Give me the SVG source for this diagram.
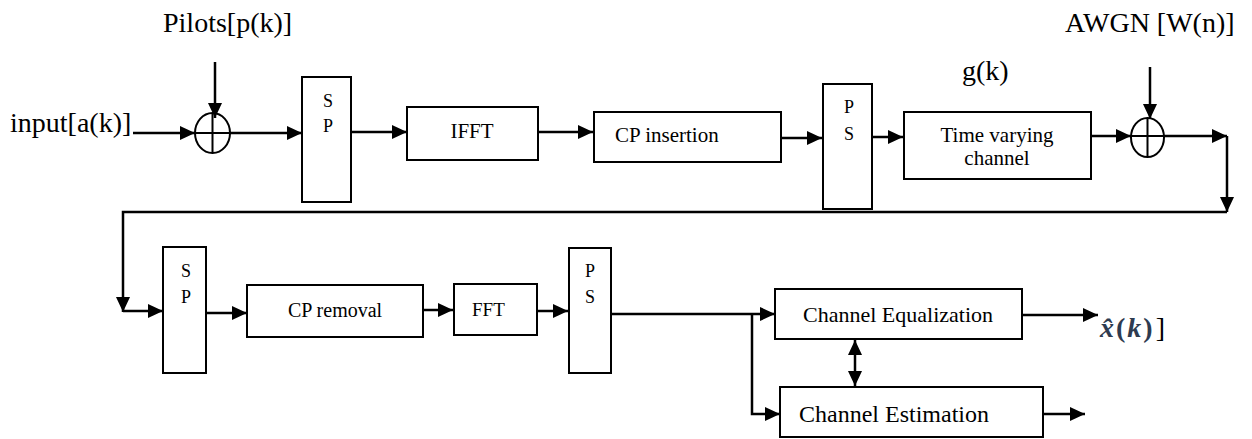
<svg xmlns="http://www.w3.org/2000/svg" width="1252" height="439" viewBox="0 0 1252 439" font-family="'Liberation Serif', 'DejaVu Serif', serif">
  <style>
    .box { fill: #fff; stroke: #000; stroke-width: 2; }
    .sum { fill: none; stroke: #000; stroke-width: 2; }
    .wire { fill: none; stroke: #000; stroke-width: 2.5; }
    .arr { marker-end: url(#ah); }
    text { font-family: 'Liberation Serif', 'DejaVu Serif', serif; fill: #000; }
    .big { font-size: 28px; }
    .lbl { font-size: 21px; }
    .sm { font-size: 18px; text-anchor: middle; }
    .mid { text-anchor: middle; }
    .hat { fill: #2e3b50; font-weight: bold; letter-spacing: 2px; }
  </style>
  <defs>
    <marker id="ah" viewBox="0 0 15 14" refX="15" refY="7" markerWidth="15" markerHeight="14" markerUnits="userSpaceOnUse" orient="auto-start-reverse">
      <path d="M0,0 L15,7 L0,14 z" fill="#000"/>
    </marker>
  </defs>
  <rect width="1252" height="439" fill="#fff"/>

  <!-- free-standing signal labels -->
  <g id="labels">
    <text class="big" x="163" y="32">Pilots[p(k)]</text>
    <text class="big" x="10" y="132">input[a(k)]</text>
    <text class="big" x="962" y="80">g(k)</text>
    <text class="big" x="1065" y="32">AWGN [W(n)]</text>
    <text x="1100" y="337" font-size="28"><tspan class="hat" font-style="italic">x̂</tspan><tspan class="hat">(</tspan><tspan class="hat" font-style="italic">k</tspan><tspan class="hat">)</tspan><tspan dx="1">]</tspan></text>
  </g>

  <!-- transmitter chain -->
  <g id="adder1">
    <ellipse class="sum" cx="212.5" cy="133" rx="17.5" ry="20"/>
    <path class="sum" d="M195,133 H230 M212.5,113 V153"/>
  </g>
  <g id="sp1">
    <rect class="box" x="302" y="77" width="49" height="125"/>
    <text class="sm" x="328" y="107">S</text>
    <text class="sm" x="328" y="132">P</text>
  </g>
  <g id="ifft">
    <rect class="box" x="407" y="107" width="131" height="53"/>
    <text class="lbl mid" x="472" y="138">IFFT</text>
  </g>
  <g id="cp-insertion">
    <rect class="box" x="594" y="112" width="187" height="50"/>
    <text class="lbl" x="615" y="142">CP insertion</text>
  </g>
  <g id="ps1">
    <rect class="box" x="823" y="84" width="49" height="125"/>
    <text class="sm" x="849" y="113">P</text>
    <text class="sm" x="849" y="140">S</text>
  </g>
  <g id="channel">
    <rect class="box" x="904" y="112" width="187" height="67"/>
    <text class="lbl mid" x="997" y="142">Time varying</text>
    <text class="lbl mid" x="997" y="165">channel</text>
  </g>
  <g id="adder2">
    <ellipse class="sum" cx="1147.5" cy="137.5" rx="16.5" ry="19.5"/>
    <path class="sum" d="M1131,136 H1164 M1147.5,118 V157"/>
  </g>

  <!-- receiver chain -->
  <g id="sp2">
    <rect class="box" x="163" y="247" width="43" height="126"/>
    <text class="sm" x="186" y="277">S</text>
    <text class="sm" x="186" y="303">P</text>
  </g>
  <g id="cp-removal">
    <rect class="box" x="247" y="285" width="176" height="52"/>
    <text class="mid" font-size="20" x="335" y="317">CP removal</text>
  </g>
  <g id="fft">
    <rect class="box" x="454" y="284" width="83" height="51"/>
    <text font-size="19" x="472" y="316">FFT</text>
  </g>
  <g id="ps2">
    <rect class="box" x="569" y="248" width="42" height="125"/>
    <text class="sm" x="590" y="277">P</text>
    <text class="sm" x="590" y="303">S</text>
  </g>
  <g id="equalization">
    <rect class="box" x="775" y="289" width="247" height="50"/>
    <text class="mid" font-size="22" x="898" y="322">Channel Equalization</text>
  </g>
  <g id="estimation">
    <rect class="box" x="780" y="387" width="263" height="50"/>
    <text font-size="24" x="799" y="422">Channel Estimation</text>
  </g>

  <!-- connectors -->
  <g id="connectors">
    <path class="wire arr" d="M133,133 H195"/>
    <path class="wire arr" d="M215,62 V118"/>
    <path class="wire arr" d="M230,133 H302"/>
    <path class="wire arr" d="M351,132 H407"/>
    <path class="wire arr" d="M538,132 H593"/>
    <path class="wire arr" d="M781,138 H822"/>
    <path class="wire arr" d="M872,137 H903"/>
    <path class="wire arr" d="M1091,136 H1131"/>
    <path class="wire arr" d="M1150,67 V119"/>
    <path class="wire arr" d="M1164,136 H1227"/>
    <path class="wire arr" d="M1227,136 V212"/>
    <path class="wire arr" d="M1227,212 H123 V312"/>
    <path class="wire arr" d="M123,311 H163"/>
    <path class="wire arr" d="M206,313 H247"/>
    <path class="wire arr" d="M423,310 H453"/>
    <path class="wire arr" d="M537,311 H568"/>
    <path class="wire arr" d="M611,314 H775"/>
    <path class="wire arr" d="M752,314 V414 H780"/>
    <path class="wire arr" d="M855,340 V386" marker-start="url(#ah)"/>
    <path class="wire arr" d="M1022,315 H1098"/>
    <path class="wire arr" d="M1043,414 H1085"/>
  </g>
</svg>
